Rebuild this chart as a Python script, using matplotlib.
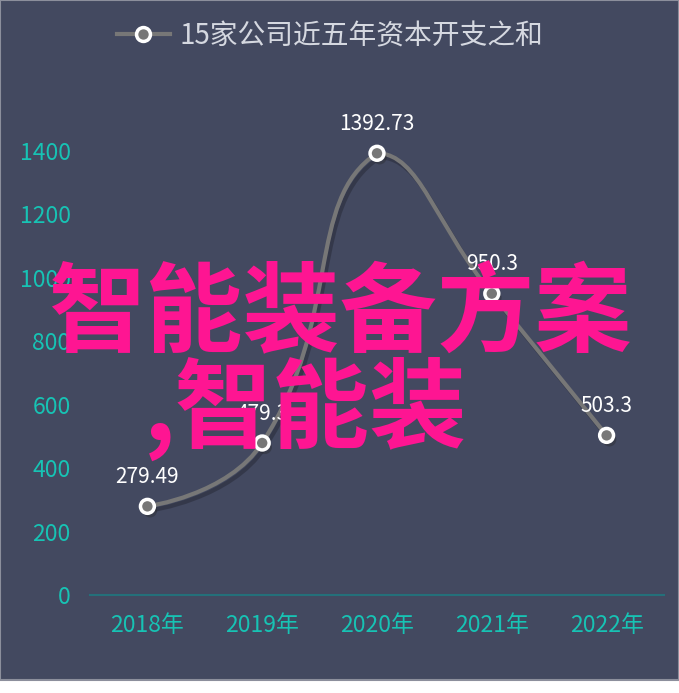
import matplotlib
matplotlib.use('Agg')
import matplotlib.pyplot as plt
import matplotlib.patheffects as pe
from matplotlib.path import Path
from matplotlib.patches import PathPatch, Rectangle
from matplotlib.lines import Line2D
import numpy as np

plt.rcParams['font.family'] = ['Noto Sans CJK SC', 'DejaVu Sans']

years = ['2018年', '2019年', '2020年', '2021年', '2022年']
capex = [279.49, 479.3, 1392.73, 950.3, 503.3]
capex_labels = ['279.49', '479.3', '1392.73', '950.3', '503.3']
series_name = '15家公司近五年资本开支之和'
yticks = [0, 200, 400, 600, 800, 1000, 1200, 1400]

W, H = 679, 693
bg = '#434960'
teal = '#17c3b4'
line_col = '#777777'

fig = plt.figure(figsize=(W / 100, H / 100), dpi=100, facecolor='white')
fig.patches.append(Rectangle((0, 13 / H), 1, 1 - 13 / H, transform=fig.transFigure,
                             facecolor=bg, edgecolor='#8c8f9c', linewidth=1.5, zorder=-5))

ax = fig.add_axes([90 / W, 98 / H, 574 / W, 444 / H])
ax.set_zorder(2)
ax.set_facecolor('none')
ax.set_xlim(-0.5, len(years) - 0.5)
ax.set_ylim(0, 1400)
for s in ['top', 'right', 'left']:
    ax.spines[s].set_visible(False)
ax.spines['bottom'].set_color('#24707a')
ax.spines['bottom'].set_linewidth(1.5)
ax.set_xticks(range(len(years)))
ax.set_xticklabels(years)
ax.set_yticks(yticks)
ax.tick_params(axis='x', length=0, pad=14, labelsize=16.5, labelcolor=teal)
ax.tick_params(axis='y', length=0, pad=14, labelsize=16.5, labelcolor=teal)

# echarts-like smooth curve, computed in pixel space
xs = np.arange(len(capex), dtype=float)
pts = ax.transData.transform(np.column_stack([xs, capex]))
smooth = 0.5
n = len(pts)
cps_prev = [None] * n
cps_next = [None] * n
for i in range(n):
    cur = pts[i]
    if i == 0 or i == n - 1:
        cps_prev[i] = cur.copy()
        cps_next[i] = cur.copy()
        continue
    prv, nxt = pts[i - 1], pts[i + 1]
    v = nxt - prv
    d0 = np.hypot(*(cur - prv))
    d1 = np.hypot(*(nxt - cur))
    r = d1 / (d0 + d1)
    cn = cur + v * smooth * r
    cp = cur - v * smooth * (1 - r)
    cn = np.minimum(cn, np.maximum(nxt, cur))
    cn = np.maximum(cn, np.minimum(nxt, cur))
    cp = np.minimum(cp, np.maximum(prv, cur))
    cp = np.maximum(cp, np.minimum(prv, cur))
    cps_prev[i] = cp
    cps_next[i] = cn

verts = [pts[0]]
codes = [Path.MOVETO]
for i in range(n - 1):
    verts += [cps_next[i], cps_prev[i + 1], pts[i + 1]]
    codes += [Path.CURVE4] * 3
verts = ax.transData.inverted().transform(np.array(verts))
shadow = [pe.SimpleLineShadow(offset=(2, -3), shadow_color='black', alpha=0.22), pe.Normal()]
ax.add_patch(PathPatch(Path(verts, codes), facecolor='none', edgecolor=line_col,
                       linewidth=3, path_effects=shadow, zorder=3, clip_on=False))

ax.plot(xs, capex, linestyle='none', marker='o', markersize=10, markerfacecolor=line_col,
        markeredgecolor='white', markeredgewidth=2.5, zorder=4, clip_on=False,
        path_effects=[pe.SimplePatchShadow(offset=(2, -3), alpha=0.35), pe.Normal()])

for x, y, lab in zip(xs, capex, capex_labels):
    ax.annotate(lab, (x, y), xytext=(0, 21), textcoords='offset points', ha='center',
                va='center', color='white', fontsize=15, zorder=5)

handle = Line2D([], [], color=line_col, linewidth=3, marker='o', markersize=10,
                markerfacecolor=line_col, markeredgecolor='white', markeredgewidth=2.5)
leg = fig.legend([handle], [series_name], loc='center', bbox_to_anchor=(330 / W, 1 - 36 / H),
                 frameon=False, fontsize=20, handlelength=1.9, handletextpad=0.35)
for t in leg.get_texts():
    t.set_color('#d5d8e0')

# pink overlay text
fig.text(340 / W, 1 - 316 / H, '智能装备方案', ha='center', va='center', color='#fe1592',
         fontsize=70, fontweight='bold', zorder=10)
fig.text(306 / W, 1 - 409 / H, ',智能装', ha='center', va='center', color='#fe1592',
         fontsize=70, fontweight='bold', zorder=10)

fig.savefig('out.png', dpi=100, facecolor='white')
